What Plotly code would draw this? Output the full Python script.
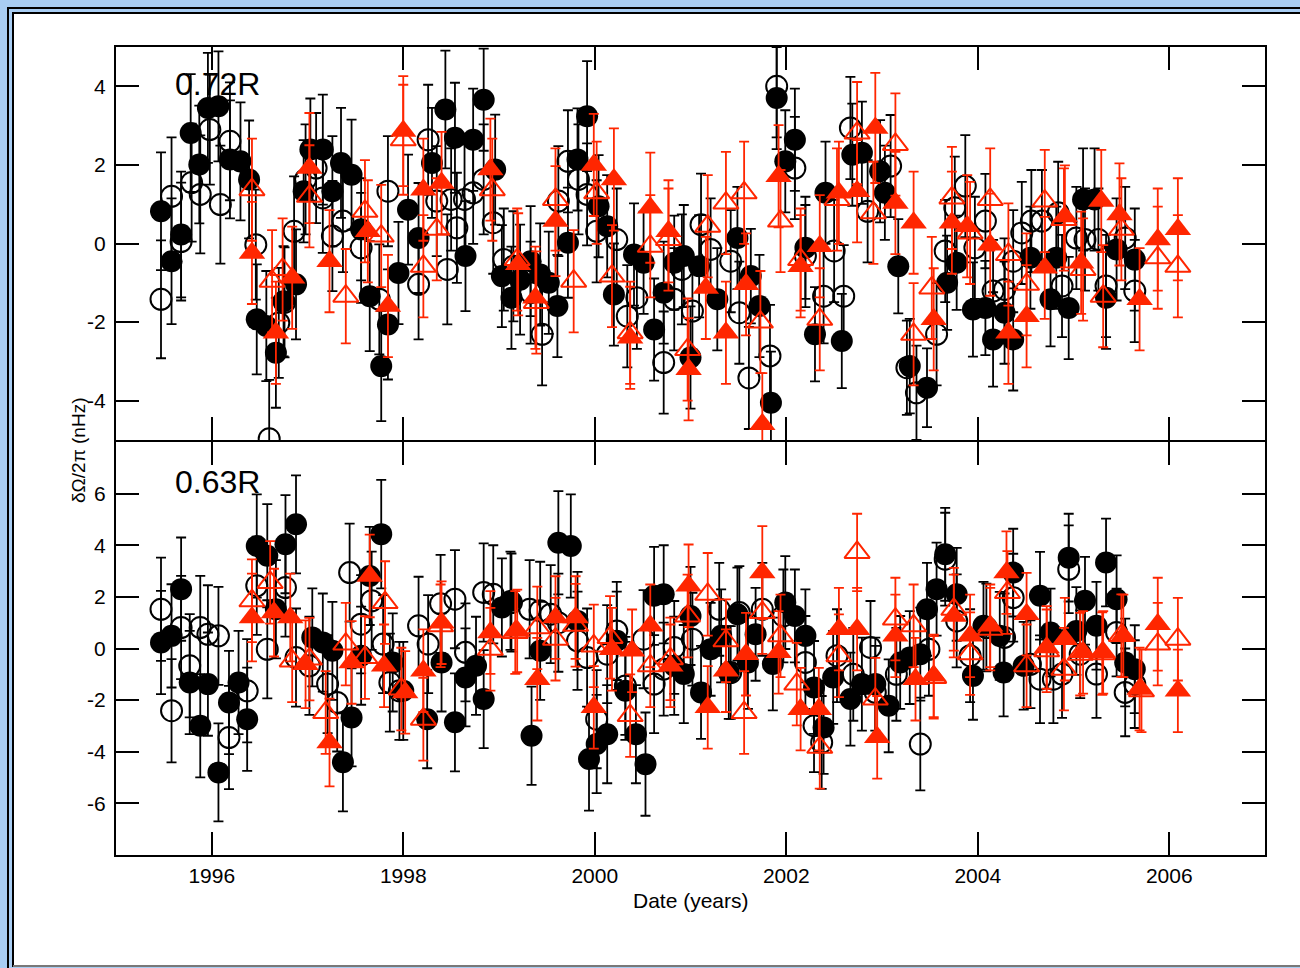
import plotly.graph_objects as go

# ---------------- data ----------------
# Top panel (0.72R): filled black circles
tfb_year = [1995.47, 1995.58, 1995.68, 1995.78, 1995.87, 1995.96, 1996.07, 1996.19, 1996.30, 1996.39,
            1996.47, 1996.57, 1996.67, 1996.75, 1996.88, 1996.96, 1997.03, 1997.16, 1997.26, 1997.35,
            1997.46, 1997.56, 1997.65, 1997.77, 1997.84, 1997.95, 1998.05, 1998.16, 1998.30, 1998.44,
            1998.54, 1998.65, 1998.73, 1998.84, 1998.96, 1999.03, 1999.13, 1999.22, 1999.33, 1999.43,
            1999.52, 1999.61, 1999.72, 1999.82, 1999.92, 2000.04, 2000.13, 2000.20, 2000.41, 2000.51,
            2000.62, 2000.72, 2000.83, 2000.93, 2001.00, 2001.09, 2001.28, 2001.49, 2001.63, 2001.72,
            2001.84, 2001.90, 2001.99, 2002.09, 2002.20, 2002.30, 2002.41, 2002.58, 2002.69, 2002.79,
            2002.98, 2003.03, 2003.17, 2003.29, 2003.47, 2003.68, 2003.78, 2003.95, 2004.08, 2004.16,
            2004.28, 2004.37, 2004.55, 2004.76, 2004.82, 2004.95, 2005.10, 2005.22, 2005.34, 2005.45,
            2005.64]
tfb_val = [0.82, -0.45, 0.23, 2.81, 2.01, 3.45, 3.49, 2.14, 2.09, 1.63,
           -1.93, -2.10, -2.78, -1.47, -1.04, 1.33, 2.39, 2.39, 1.33, 2.05,
           1.75, 0.36, -1.34, -3.12, -2.06, -0.75, 0.86, 0.14, 2.05, 3.41,
           2.69, -0.32, 2.64, 3.66, 1.88, -0.83, -1.38, -0.92, -0.45, -0.79,
           -1.00, -1.59, 0.02, 2.14, 3.24, 0.95, 0.44, -1.30, -0.28, -0.49,
           -2.19, -1.25, -0.49, -0.32, -2.90, -0.58, -1.42, 0.14, -0.83, -1.59,
           -4.05, 3.70, 2.09, 2.64, -0.11, -2.31, 1.29, -2.48, 2.26, 2.31,
           1.84, 1.29, -0.58, -3.12, -3.67, -1.00, -0.49, -1.68, -1.64, -2.44,
           -1.76, -2.44, -0.36, -1.42, -0.36, -1.64, 1.12, 1.12, -1.38, -0.15,
           -0.41]
tfb_err = [1.5, 1.6, 1.6, 1.5, 1.5, 1.4, 1.4, 1.5, 1.5, 1.5,
           1.4, 1.4, 1.4, 1.4, 1.4, 1.3, 1.3, 1.4, 1.4, 1.4,
           1.4, 1.3, 1.4, 1.4, 1.4, 1.3, 1.4, 1.4, 1.4, 1.5,
           1.4, 1.4, 1.3, 1.3, 1.4, 1.3, 1.3, 1.4, 1.4, 1.3,
           1.3, 1.3, 1.4, 1.3, 1.4, 1.3, 1.3, 1.3, 1.3, 1.3,
           1.3, 1.3, 1.2, 1.3, 1.3, 1.3, 1.3, 1.3, 1.2, 1.3,
           1.3, 1.3, 1.3, 1.3, 1.3, 1.2, 1.3, 1.2, 1.3, 1.3,
           1.3, 1.2, 1.2, 1.2, 1.0, 1.2, 1.2, 1.2, 1.2, 1.2,
           1.3, 1.3, 1.3, 1.2, 1.3, 1.3, 1.3, 1.3, 1.3, 1.3,
           1.3]

# Top panel: open black circles
tob_year = [1995.47, 1995.58, 1995.68, 1995.79, 1995.88, 1995.98, 1996.09, 1996.19, 1996.46, 1996.60,
            1996.70, 1996.76, 1996.86, 1996.98, 1997.09, 1997.16, 1997.26, 1997.37, 1997.56, 1997.75,
            1997.84, 1998.16, 1998.26, 1998.35, 1998.46, 1998.50, 1998.56, 1998.64, 1998.73, 1998.84,
            1998.94, 1999.05, 1999.15, 1999.33, 1999.45, 1999.62, 1999.72, 1999.83, 1999.92, 2000.02,
            2000.23, 2000.34, 2000.44, 2000.72, 2000.83, 2000.91, 2001.02, 2001.11, 2001.21, 2001.42,
            2001.51, 2001.61, 2001.83, 2001.90, 2002.09, 2002.20, 2002.39, 2002.50, 2002.60, 2002.67,
            2002.85, 2003.09, 2003.26, 2003.36, 2003.57, 2003.66, 2003.76, 2003.87, 2003.97, 2004.08,
            2004.16, 2004.28, 2004.37, 2004.46, 2004.56, 2004.67, 2004.84, 2004.88, 2005.03, 2005.12,
            2005.26, 2005.34, 2005.54, 2005.64]
tob_val = [-1.42, 1.20, 0.05, 1.55, 1.25, 2.90, 0.99, 2.60, -0.03, -4.97,
           -2.02, -1.50, 0.31, 1.63, 1.92, 1.16, 0.19, 0.57, -0.11, -1.42,
           1.33, -1.04, 2.64, 1.08, -0.66, 1.12, 0.40, 1.12, 1.29, 1.63,
           0.53, -0.41, -0.58, -1.25, -2.31, 1.08, 2.09, 1.63, 1.25, 0.31,
           0.10, -1.85, -1.38, -3.03, -1.42, -0.66, -1.72, 0.48, -0.15, -0.45,
           -1.76, -3.42, -2.86, 4.00, 1.92, -0.32, -1.34, -0.19, -1.34, 2.94,
           0.82, 1.97, -3.16, -3.80, -2.31, -0.19, 0.91, 1.46, -0.11, 0.57,
           -1.21, -1.17, -0.45, 0.27, 0.57, 0.57, 0.78, -1.08, 0.14, 0.10,
           0.10, -1.08, 0.14, -1.21]
tob_err = [1.5, 1.5, 1.5, 1.5, 1.5, 1.4, 1.5, 1.5, 1.4, 1.5,
           1.4, 1.4, 1.4, 1.4, 1.4, 1.4, 1.4, 1.3, 1.4, 1.4,
           1.4, 1.4, 1.4, 1.4, 1.4, 1.3, 1.4, 1.4, 1.3, 1.4,
           1.3, 1.3, 1.4, 1.3, 1.3, 1.4, 1.3, 1.4, 1.3, 1.3,
           1.3, 1.3, 1.3, 1.3, 1.3, 1.4, 1.3, 1.3, 1.3, 1.3,
           1.3, 1.3, 1.3, 1.3, 1.3, 1.3, 1.2, 1.3, 1.3, 1.3,
           1.3, 1.3, 1.2, 1.2, 1.3, 1.3, 1.3, 1.3, 1.3, 1.2,
           1.3, 1.3, 1.3, 1.3, 1.3, 1.3, 1.3, 1.3, 1.3, 1.3,
           1.3, 1.3, 1.3, 1.3]

# Top panel: filled red triangles
trf_year = [1996.42, 1996.67, 1996.84, 1997.02, 1997.23, 1997.63, 1997.84, 1998.00, 1998.21, 1998.40,
            1998.91, 1999.20, 1999.38, 1999.59, 1999.99, 2000.20, 2000.37, 2000.58, 2000.77, 2000.98,
            2001.16, 2001.37, 2001.58, 2001.75, 2001.92, 2002.15, 2002.35, 2002.55, 2002.74, 2002.93,
            2003.14, 2003.33, 2003.54, 2003.73, 2003.89, 2004.13, 2004.32, 2004.51, 2004.70, 2004.91,
            2005.08, 2005.29, 2005.48, 2005.69, 2005.88, 2006.09]
trf_val = [-0.24, -2.27, -0.87, 1.92, -0.45, 0.31, -1.59, 2.86, 1.37, 1.54,
           1.88, -0.53, -1.38, 0.57, 2.00, 1.63, -2.40, 0.91, 0.31, -3.20,
           -1.13, -2.27, -1.04, -4.60, 1.71, -0.58, -0.07, 1.29, 1.33, 2.94,
           1.03, 0.53, -1.93, 0.53, 0.44, -0.03, -2.27, -1.85, -0.62, 0.69,
           -0.49, 1.08, 0.74, -1.42, 0.10, 0.36]
trf_err = [1.3, 1.3, 1.3, 1.4, 1.3, 1.3, 1.3, 1.4, 1.3, 1.3,
           1.3, 1.3, 1.3, 1.4, 1.3, 1.3, 1.3, 1.4, 1.3, 1.3,
           1.3, 1.3, 1.3, 1.3, 1.3, 1.3, 1.3, 1.3, 1.3, 1.4,
           1.3, 1.3, 1.3, 1.3, 1.3, 1.3, 1.3, 1.3, 1.3, 1.3,
           1.3, 1.3, 1.3, 1.3, 1.3, 1.3]

# Top panel: open red triangles
tro_year = [1996.42, 1996.63, 1996.74, 1997.02, 1997.40, 1997.60, 1997.77, 1998.00, 1998.21, 1998.35,
            1998.93, 1999.19, 1999.39, 1999.59, 1999.78, 2000.02, 2000.18, 2000.37, 2000.58, 2000.77,
            2000.97, 2001.18, 2001.37, 2001.56, 2001.73, 2001.94, 2002.15, 2002.35, 2002.53, 2002.74,
            2002.91, 2003.14, 2003.33, 2003.52, 2003.73, 2003.92, 2004.13, 2004.32, 2004.51, 2004.70,
            2004.90, 2005.10, 2005.31, 2005.50, 2005.88, 2006.09]
tro_val = [1.37, -0.96, -0.66, 1.20, -1.34, 0.82, 0.19, 2.64, -0.58, 0.36,
           1.37, -0.41, -1.50, 1.12, -0.96, 1.29, -0.83, -2.27, -0.07, 0.10,
           -2.70, 0.44, 1.03, 1.29, -2.00, 0.57, -0.41, -1.93, 1.12, 2.81,
           0.78, 2.52, -2.31, -1.13, 1.16, 0.27, 1.12, -0.28, -1.04, 1.08,
           0.61, -0.66, -1.34, 0.36, -0.36, -0.58]
tro_err = [1.3, 1.3, 1.3, 1.3, 1.2, 1.3, 1.3, 1.4, 1.3, 1.3,
           1.3, 1.3, 1.3, 1.3, 1.3, 1.3, 1.3, 1.3, 1.3, 1.3,
           1.3, 1.3, 1.3, 1.3, 1.3, 1.3, 1.3, 1.3, 1.3, 1.3,
           1.3, 1.3, 1.3, 1.3, 1.3, 1.3, 1.3, 1.3, 1.3, 1.3,
           1.3, 1.3, 1.3, 1.3, 1.3, 1.3]

# Bottom panel (0.63R): filled black circles
bfb_year = [1995.47, 1995.58, 1995.68, 1995.77, 1995.88, 1995.96, 1996.07, 1996.18, 1996.28, 1996.37,
            1996.47, 1996.58, 1996.67, 1996.77, 1996.88, 1997.05, 1997.16, 1997.26, 1997.37, 1997.46,
            1997.56, 1997.65, 1997.77, 1997.89, 1998.00, 1998.25, 1998.40, 1998.54, 1998.65, 1998.76,
            1998.84, 1999.03, 1999.12, 1999.34, 1999.43, 1999.62, 1999.75, 1999.82, 1999.94, 2000.02,
            2000.13, 2000.23, 2000.32, 2000.43, 2000.53, 2000.62, 2000.72, 2000.83, 2000.93, 2001.00,
            2001.11, 2001.21, 2001.32, 2001.40, 2001.49, 2001.60, 2001.68, 2001.86, 2001.99, 2002.09,
            2002.20, 2002.29, 2002.39, 2002.49, 2002.67, 2002.79, 2002.93, 2003.07, 2003.19, 2003.29,
            2003.40, 2003.47, 2003.57, 2003.66, 2003.78, 2003.95, 2004.06, 2004.23, 2004.27, 2004.37,
            2004.48, 2004.65, 2004.76, 2004.95, 2005.03, 2005.12, 2005.24, 2005.34, 2005.45, 2005.54,
            2005.64]
bfb_val = [0.23, 0.49, 2.30, -1.32, -2.99, -1.38, -4.80, -2.09, -1.32, -2.74,
           3.97, 3.59, 1.52, 4.04, 4.81, 0.43, 0.23, -0.09, -4.41, -2.67,
           -0.28, 2.81, 4.43, -0.54, -1.64, -2.74, -0.54, -2.86, -1.12, -0.67,
           -1.96, 1.59, 1.85, -3.38, -0.09, 4.10, 3.97, 1.07, -4.28, -3.70,
           -3.32, 0.30, -1.64, -3.32, -4.48, 2.04, 2.10, -0.67, -0.99, 1.26,
           -1.70, -0.03, 0.49, -0.93, 1.33, -0.54, 0.55, -0.60, 1.78, 1.26,
           0.49, -1.51, -3.06, -1.12, -1.96, -1.38, -1.38, -2.22, -0.54, -0.35,
           -0.22, 1.52, 2.30, 3.65, 2.10, -1.06, 0.88, 0.49, -0.93, 2.94,
           -0.67, 2.04, 0.62, 3.52, 0.68, 1.85, 0.88, 3.33, 1.91, -0.54,
           -0.80]
bfb_err = [2.0, 2.0, 2.0, 2.0, 2.0, 2.0, 1.9, 2.0, 2.0, 2.0,
           2.0, 2.0, 1.9, 1.9, 1.9, 1.9, 1.9, 1.9, 1.9, 1.9,
           1.9, 1.9, 2.1, 1.9, 1.9, 1.9, 1.9, 1.9, 1.9, 1.9,
           1.9, 1.9, 1.9, 1.9, 1.9, 2.0, 2.0, 1.9, 2.0, 1.9,
           1.9, 1.9, 1.9, 1.9, 2.0, 1.9, 1.9, 1.9, 1.9, 1.9,
           1.8, 1.8, 1.8, 1.8, 1.8, 1.8, 1.8, 1.8, 1.8, 1.8,
           1.8, 1.8, 1.8, 1.8, 1.8, 1.8, 1.8, 1.8, 1.8, 1.8,
           1.8, 1.8, 1.8, 1.8, 1.8, 1.7, 1.7, 1.7, 1.7, 1.7,
           1.7, 1.7, 1.7, 1.7, 1.7, 1.7, 1.7, 1.7, 1.7, 1.7,
           1.7]

# Bottom panel: open black circles
bob_year = [1995.47, 1995.58, 1995.68, 1995.77, 1995.88, 1995.96, 1996.07, 1996.18, 1996.37, 1996.47,
            1996.58, 1996.77, 1996.88, 1997.02, 1997.21, 1997.31, 1997.44, 1997.56, 1997.67, 1997.79,
            1997.86, 1997.96, 1998.16, 1998.26, 1998.39, 1998.54, 1998.65, 1998.84, 1998.94, 1999.13,
            1999.32, 1999.43, 1999.54, 1999.62, 1999.82, 1999.92, 2000.02, 2000.13, 2000.23, 2000.32,
            2000.51, 2000.62, 2000.72, 2000.83, 2001.02, 2001.30, 2001.42, 2001.51, 2001.75, 2001.97,
            2002.20, 2002.29, 2002.37, 2002.53, 2002.70, 2002.88, 2002.93, 2003.15, 2003.40, 2003.49,
            2003.66, 2003.78, 2003.92, 2004.09, 2004.28, 2004.37, 2004.55, 2004.65, 2004.79, 2004.88,
            2004.95, 2005.07, 2005.24, 2005.45, 2005.54, 2005.64]
bob_val = [1.52, -2.41, 0.81, -0.67, 0.81, 0.55, 0.49, -3.45, -1.64, 2.43,
           -0.03, 2.36, -0.35, -0.67, -1.38, -2.09, 2.94, 0.94, 1.85, 0.17,
           -1.32, -1.64, 0.88, 0.17, 1.73, 1.91, -0.15, 2.17, 2.10, 1.78,
           1.52, 1.46, 1.33, 1.00, 0.30, -0.35, -2.74, -0.22, 0.68, -1.45,
           0.36, -1.38, -0.80, 0.04, 0.36, 1.52, -0.93, 1.39, 1.52, 1.26,
           -0.54, -2.99, -3.64, -0.28, -1.00, 0.04, -1.70, -1.00, -3.70, -0.03,
           3.46, 1.07, -0.28, 0.81, 0.43, 1.97, -0.61, -1.19, -1.19, -0.99,
           3.07, -0.22, -0.99, 0.62, -1.70, -1.38]
bob_err = [2.0, 2.0, 2.0, 2.0, 2.0, 1.9, 1.9, 2.0, 2.0, 1.9,
           1.9, 1.9, 1.9, 1.9, 1.9, 1.9, 1.9, 1.9, 1.9, 1.9,
           1.9, 1.9, 1.9, 1.9, 1.9, 1.9, 1.9, 1.9, 1.9, 1.9,
           1.9, 1.9, 1.9, 1.9, 1.9, 1.9, 1.9, 1.9, 1.9, 1.9,
           1.9, 1.9, 1.8, 1.8, 1.8, 1.8, 1.8, 1.8, 1.8, 1.8,
           1.8, 1.8, 1.8, 1.8, 1.8, 1.8, 1.8, 1.8, 1.8, 1.8,
           1.8, 1.8, 1.8, 1.7, 1.7, 1.7, 1.7, 1.7, 1.7, 1.7,
           1.7, 1.7, 1.7, 1.7, 1.7, 1.7]

# Bottom panel: filled red triangles
brf_year = [1996.42, 1996.65, 1996.82, 1996.98, 1997.23, 1997.46, 1997.65, 1997.80, 1998.02, 1998.21,
            1998.40, 1998.91, 1999.19, 1999.40, 1999.59, 1999.80, 1999.99, 2000.18, 2000.39, 2000.58,
            2000.79, 2000.98, 2001.18, 2001.37, 2001.58, 2001.75, 2001.92, 2002.15, 2002.34, 2002.55,
            2002.74, 2002.95, 2003.14, 2003.35, 2003.54, 2003.75, 2003.92, 2004.13, 2004.30, 2004.51,
            2004.72, 2004.91, 2005.10, 2005.31, 2005.52, 2005.69, 2005.88, 2006.09]
brf_val = [1.20, 1.39, 1.20, -0.61, -3.64, -0.54, 2.81, -0.67, -1.70, -0.86,
           1.00, 0.62, 0.68, -1.19, 1.20, 1.20, -2.28, -0.03, -0.09, 0.88,
           -0.67, 2.43, -2.28, -0.86, -0.22, 2.94, -0.15, -2.35, -2.35, 0.75,
           0.75, -3.44, 0.49, -1.19, -1.06, 1.26, 0.49, 0.88, 2.94, 1.33,
           0.04, 0.36, -0.15, -0.15, 0.49, -1.57, 0.94, -1.64]
brf_err = [1.7, 1.7, 1.7, 1.7, 1.7, 1.6, 1.6, 1.6, 1.6, 1.6,
           1.6, 1.6, 1.6, 1.6, 1.6, 1.6, 1.6, 1.6, 1.6, 1.6,
           1.6, 1.6, 1.6, 1.6, 1.6, 1.8, 1.6, 1.6, 1.6, 1.6,
           1.6, 1.6, 1.6, 1.6, 1.6, 1.6, 1.6, 1.6, 1.6, 1.6,
           1.6, 1.6, 1.6, 1.6, 1.6, 1.6, 1.8, 1.6]

# Bottom panel: open red triangles
bro_year = [1996.42, 1996.61, 1996.84, 1997.02, 1997.19, 1997.40, 1997.60, 1997.81, 1997.98, 1998.21,
            1998.39, 1998.91, 1999.17, 1999.40, 1999.59, 1999.80, 1999.99, 2000.16, 2000.37, 2000.58,
            2000.79, 2000.97, 2001.18, 2001.37, 2001.56, 2001.75, 2001.94, 2002.11, 2002.35, 2002.55,
            2002.74, 2002.93, 2003.14, 2003.33, 2003.54, 2003.75, 2003.92, 2004.13, 2004.31, 2004.51,
            2004.72, 2004.90, 2005.07, 2005.30, 2005.50, 2005.71, 2005.88, 2006.09]
bro_val = [1.85, 2.56, -0.48, -0.41, -2.48, 0.17, -0.35, 1.78, -1.57, -2.74,
           0.88, -0.03, 0.62, 0.80, 0.36, 0.90, 0.10, 0.43, -2.60, -0.67,
           -0.40, 1.26, 2.10, 0.30, -2.48, 1.39, 0.49, -1.38, -3.83, -0.28,
           3.72, -1.96, 1.14, 0.88, -1.12, 1.52, -0.20, 0.75, 2.17, -0.67,
           -0.09, -0.80, -0.22, -0.20, 0.50, -1.64, 0.17, 0.36]
bro_err = [1.6, 1.6, 1.6, 1.6, 1.6, 1.6, 1.6, 1.6, 1.6, 1.6,
           1.6, 1.6, 1.6, 1.6, 1.6, 1.6, 1.6, 1.6, 1.6, 1.6,
           1.6, 1.6, 1.6, 1.6, 1.6, 1.6, 1.6, 1.6, 1.6, 1.6,
           1.5, 1.6, 1.6, 1.6, 1.6, 1.6, 1.6, 1.6, 1.6, 1.6,
           1.6, 1.6, 1.6, 1.6, 1.6, 1.6, 1.6, 1.6]

x_ticks = [1996, 1998, 2000, 2002, 2004, 2006]
top_ticks = [-4, -2, 0, 2, 4]
top_tick_text = ["-4", "-2", "0", "2", "4"]
bottom_ticks = [-6, -4, -2, 0, 2, 4, 6]
bottom_tick_text = ["-6", "-4", "-2", "0", "2", "4", "6"]

# ---------------- figure ----------------
W, H = 1300, 968
ML, MR, MT, MB = 116, 35, 47, 113
PW, PH = W - ML - MR, H - MT - MB
TOP_BOTTOM = (855 - 440) / PH      # lower edge of the top panel
BOT_TOP = (855 - 442) / PH         # upper edge of the bottom panel (shared line)
FONT = "Liberation Sans, Arial, Helvetica, sans-serif"
RED = "rgb(255,38,0)"
BLACK = "black"


def px(xp):
    return (xp - ML) / PW


def py(yp):
    return (H - MB - yp) / PH


fig = go.Figure()


def add(xs, ys, es, symbol, color, filled, xa, ya):
    if symbol == "circle":
        size = 22 if filled else 21
    else:
        size = 23 if filled else 22
    if filled:
        marker = dict(symbol=symbol, size=size, color=color, line=dict(width=0))
    else:
        marker = dict(symbol=symbol + "-open", size=size, color=color, line=dict(width=2, color=color))
    fig.add_trace(go.Scatter(
        x=xs, y=ys, mode="markers", marker=marker, xaxis=xa, yaxis=ya,
        error_y=dict(type="data", array=es, visible=True, color=color, thickness=1.8, width=5),
        showlegend=False, hoverinfo="x+y"))


# top panel
add(tob_year, tob_val, tob_err, "circle", BLACK, False, "x2", "y2")
add(tfb_year, tfb_val, tfb_err, "circle", BLACK, True, "x2", "y2")
add(tro_year, tro_val, tro_err, "triangle-up", RED, False, "x2", "y2")
add(trf_year, trf_val, trf_err, "triangle-up", RED, True, "x2", "y2")
# bottom panel
add(bob_year, bob_val, bob_err, "circle", BLACK, False, "x", "y")
add(bfb_year, bfb_val, bfb_err, "circle", BLACK, True, "x", "y")
add(bro_year, bro_val, bro_err, "triangle-up", RED, False, "x", "y")
add(brf_year, brf_val, brf_err, "triangle-up", RED, True, "x", "y")

axis_common = dict(showline=True, linecolor="black", linewidth=2, mirror="ticks",
                   ticks="inside", ticklen=23, tickwidth=2, tickcolor="black",
                   showgrid=False, zeroline=False,
                   tickfont=dict(family=FONT, size=21, color="black"))

fig.update_layout(
    width=W, height=H,
    margin=dict(l=ML, r=MR, t=MT, b=MB, pad=0),
    paper_bgcolor="rgb(168,205,243)",
    plot_bgcolor="white",
    font=dict(family=FONT, color="black"),
    showlegend=False,
    xaxis=dict(range=[1995, 2007], tickvals=x_ticks, anchor="y", domain=[0, 1],
               ticklabelstandoff=1, **axis_common),
    yaxis=dict(range=[-8, 8], tickvals=bottom_ticks, ticktext=bottom_tick_text,
               domain=[0, BOT_TOP], anchor="x", ticklabelstandoff=4, **axis_common),
    xaxis2=dict(range=[1995, 2007], tickvals=x_ticks, anchor="y2", matches="x",
                showticklabels=False, **axis_common),
    yaxis2=dict(range=[-5, 5], tickvals=top_ticks, ticktext=top_tick_text,
                domain=[TOP_BOTTOM, 1], anchor="x2", ticklabelstandoff=4, **axis_common),
)

# slide-like frame
fig.add_shape(type="rect", xref="paper", yref="paper",
              x0=px(13), x1=px(1310), y0=py(966), y1=py(13),
              fillcolor="white", line=dict(color="black", width=2), layer="below")
fig.add_shape(type="rect", xref="paper", yref="paper",
              x0=px(8), x1=px(1320), y0=py(1000), y1=py(8),
              fillcolor="rgba(0,0,0,0)", line=dict(color="black", width=2), layer="below")
fig.add_shape(type="line", xref="paper", yref="paper",
              x0=px(13), x1=px(1310), y0=py(966), y1=py(966),
              line=dict(color="rgb(120,120,120)", width=2), layer="below")

# panel labels
fig.add_annotation(x=1995.6, y=4.05, xref="x2", yref="y2", text="0.72R", showarrow=False,
                   xanchor="left", yanchor="middle", font=dict(family=FONT, size=32, color="black"))
fig.add_annotation(x=1995.6, y=6.45, xref="x", yref="y", text="0.63R", showarrow=False,
                   xanchor="left", yanchor="middle", font=dict(family=FONT, size=32, color="black"))

# axis titles
fig.add_annotation(x=px(78), y=py(451), xref="paper", yref="paper", text="δΩ/2π (nHz)",
                   textangle=-90, showarrow=False, xanchor="center", yanchor="middle",
                   font=dict(family=FONT, size=19, color="black"))
fig.add_annotation(x=0.5, y=py(900), xref="paper", yref="paper", text="Date (years)",
                   showarrow=False, xanchor="center", yanchor="middle",
                   font=dict(family=FONT, size=21, color="black"))

fig.write_html("out.html")
